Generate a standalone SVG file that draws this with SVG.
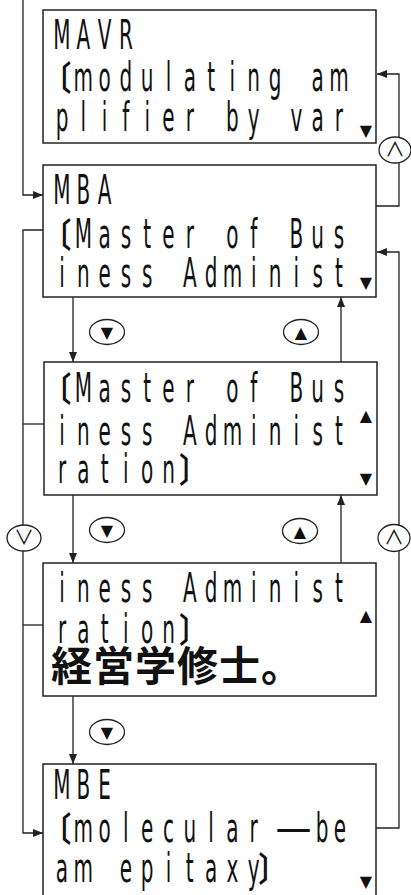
<svg xmlns="http://www.w3.org/2000/svg" width="411" height="895" viewBox="0 0 411 895">
<style>
.box{fill:#fff;stroke:#222;stroke-width:1.5}
.t{font-family:"DejaVu Sans","Noto Sans CJK JP",sans-serif;font-size:40px;fill:#111;text-anchor:middle}
.br{font-family:"Noto Sans CJK JP",sans-serif;font-size:34px;font-weight:bold;fill:#111;text-anchor:middle}
.cjk{font-family:"Noto Sans CJK JP",sans-serif;font-size:41px;font-weight:bold;fill:#111;letter-spacing:1px}
.ind{font-family:"DejaVu Sans",sans-serif;font-size:16px;fill:#111;text-anchor:middle}
.key{fill:#fff;stroke:#222;stroke-width:1.3}
.kt{font-family:"DejaVu Sans",sans-serif;font-size:16px;fill:#111;text-anchor:middle}
.kc{font-family:"Noto Sans CJK JP",sans-serif;font-size:20px;fill:#111;text-anchor:middle}
.ln{fill:none;stroke:#222;stroke-width:1.3}
</style>
<defs>
<marker id="ah" markerUnits="userSpaceOnUse" markerWidth="10" markerHeight="8" refX="10" refY="4" orient="auto">
<path d="M0,0 L10,4 L0,8 z" fill="#222"/>
</marker>
</defs>
<g id="connectors">
<path class="ln" d="M23,0 V195 H43" marker-end="url(#ah)"/>
<path class="ln" d="M376,206 H399 V74 H377" marker-end="url(#ah)"/>
<path class="ln" d="M43,230 H23 V833 H43" marker-end="url(#ah)"/>
<path class="ln" d="M44,424 H23"/>
<path class="ln" d="M43,625 H23"/>
<path class="ln" d="M376,828 H399 V252 H377" marker-end="url(#ah)"/>
<path class="ln" d="M73,297 V362" marker-end="url(#ah)"/>
<path class="ln" d="M73,495 V563" marker-end="url(#ah)"/>
<path class="ln" d="M73,696 V764" marker-end="url(#ah)"/>
<path class="ln" d="M341,362 V297" marker-end="url(#ah)"/>
<path class="ln" d="M341,563 V495" marker-end="url(#ah)"/>
</g>
<g id="key-up-top"><ellipse class="key" cx="395" cy="150" rx="16" ry="13"/><text class="kc" x="395" y="157">∧</text></g>
<g id="key-down-left"><ellipse class="key" cx="24" cy="538" rx="17" ry="13"/><text class="kc" x="24" y="545">∨</text></g>
<g id="key-up-right"><ellipse class="key" cx="394" cy="538" rx="16" ry="13.5"/><text class="kc" x="394" y="545">∧</text></g>
<g id="key-d1"><ellipse class="key" cx="107" cy="332" rx="17.5" ry="12.5"/><text class="kt" x="107" y="338">▼</text></g>
<g id="key-u1"><ellipse class="key" cx="301" cy="332" rx="17.5" ry="12.5"/><text class="kt" x="301" y="338">▲</text></g>
<g id="key-d2"><ellipse class="key" cx="107" cy="530" rx="17.5" ry="12.5"/><text class="kt" x="107" y="536">▼</text></g>
<g id="key-u2"><ellipse class="key" cx="300" cy="531" rx="17.5" ry="12.5"/><text class="kt" x="300" y="537">▲</text></g>
<g id="key-d3"><ellipse class="key" cx="107" cy="732" rx="17.5" ry="12.5"/><text class="kt" x="107" y="738">▼</text></g>

<g id="node-mavr">
<rect class="box" x="43" y="10" width="333" height="133"/>
<text class="t" transform="scale(0.5,1)" x="124 166.6 209.2 251.8" y="49">MAVR</text>
<text class="br" transform="scale(0.8,1)" x="72" y="91">〔</text>
<text class="t" transform="scale(0.5,1)" x="166.6 209.2 251.8 294.4 337 379.6 422.2 464.8 507.4 550 592.6 635.2 677.8" y="91">modulating am</text>
<text class="t" transform="scale(0.5,1)" x="124 166.6 209.2 251.8 294.4 337 379.6 422.2 464.8 507.4 550 592.6 635.2 677.8" y="131">plifier by var</text>
<text class="ind" x="366" y="136">▼</text>
</g>

<g id="node-mba">
<rect class="box" x="43" y="165" width="333" height="132"/>
<text class="t" transform="scale(0.5,1)" x="124 166.6 209.2" y="204">MBA</text>
<text class="br" transform="scale(0.8,1)" x="72" y="248">〔</text>
<text class="t" transform="scale(0.5,1)" x="166.6 209.2 251.8 294.4 337 379.6 422.2 464.8 507.4 550 592.6 635.2 677.8" y="248">Master of Bus</text>
<text class="t" transform="scale(0.5,1)" x="124 166.6 209.2 251.8 294.4 337 379.6 422.2 464.8 507.4 550 592.6 635.2 677.8" y="287">iness Administ</text>
<text class="ind" x="366" y="288">▼</text>
</g>

<g id="node-mba-2">
<rect class="box" x="44" y="362" width="333" height="133"/>
<text class="br" transform="scale(0.8,1)" x="72" y="402">〔</text>
<text class="t" transform="scale(0.5,1)" x="166.6 209.2 251.8 294.4 337 379.6 422.2 464.8 507.4 550 592.6 635.2 677.8" y="402">Master of Bus</text>
<text class="t" transform="scale(0.5,1)" x="124 166.6 209.2 251.8 294.4 337 379.6 422.2 464.8 507.4 550 592.6 635.2 677.8" y="445">iness Administ</text>
<text class="t" transform="scale(0.5,1)" x="124 166.6 209.2 251.8 294.4 337" y="483">ration</text>
<text class="br" transform="scale(0.8,1)" x="241" y="483">〕</text>
<text class="ind" x="366" y="421">▲</text>
<text class="ind" x="366" y="484">▼</text>
</g>

<g id="node-mba-3">
<rect class="box" x="43" y="563" width="333" height="133"/>
<text class="t" transform="scale(0.5,1)" x="124 166.6 209.2 251.8 294.4 337 379.6 422.2 464.8 507.4 550 592.6 635.2 677.8" y="602">iness Administ</text>
<text class="t" transform="scale(0.5,1)" x="124 166.6 209.2 251.8 294.4 337" y="643">ration</text>
<text class="br" transform="scale(0.8,1)" x="241" y="643">〕</text>
<text class="cjk" x="51" y="681">経営学修士。</text>
<text class="ind" x="366" y="621">▲</text>
</g>

<g id="node-mbe">
<rect class="box" x="43" y="764" width="333" height="150"/>
<text class="t" transform="scale(0.5,1)" x="124 166.6 209.2" y="799">MBE</text>
<text class="br" transform="scale(0.8,1)" x="72" y="842">〔</text>
<text class="t" transform="scale(0.5,1)" x="166.6 209.2 251.8 294.4 337 379.6 422.2 464.8 507.4" y="842">molecular</text>
<text class="t" transform="scale(0.9,1)" x="326" y="842">—</text>
<text class="t" transform="scale(0.5,1)" x="644 680" y="842">be</text>
<text class="t" transform="scale(0.5,1)" x="124 166.6 209.2 251.8 294.4 337 379.6 422.2 464.8 507.4" y="882">am epitaxy</text>
<text class="br" transform="scale(0.8,1)" x="340" y="882">〕</text>
<text class="ind" x="366" y="887">▼</text>
</g>
</svg>
